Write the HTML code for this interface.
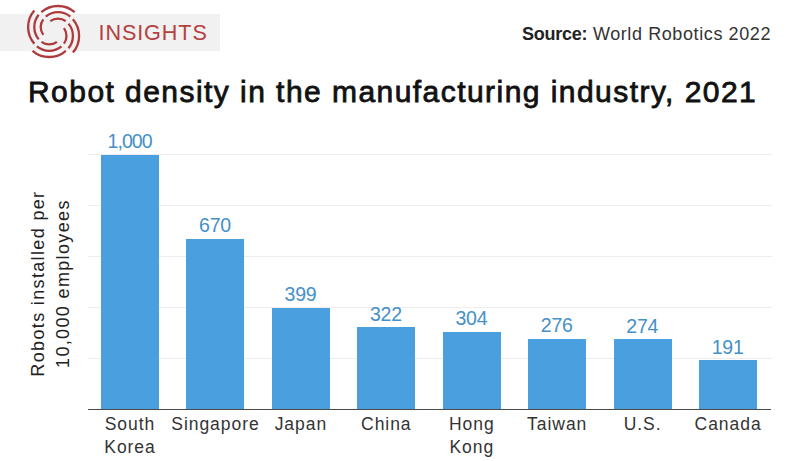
<!DOCTYPE html>
<html><head><meta charset="utf-8"><style>
html,body{margin:0;padding:0;background:#fff;}
body{width:800px;height:461px;position:relative;overflow:hidden;font-family:"Liberation Sans", sans-serif;}
</style></head><body>
<div style="position:absolute;left:0;top:13.5px;width:220px;height:37.5px;background:#f1f1f1"></div>
<svg style="position:absolute;left:0;top:0" width="110" height="64" viewBox="0 0 110 64"><path d="M41.32 12.22A25.5 25.5 0 0 1 74.68 12.22M45.71 16.61A19.3 19.3 0 0 1 70.29 16.61M50.27 21.17A12.9 12.9 0 0 1 65.73 21.17M72.88 19.22A25.5 25.5 0 0 1 72.88 52.58M68.49 23.61A19.3 19.3 0 0 1 68.49 48.19M63.93 28.17A12.9 12.9 0 0 1 63.93 43.63M65.88 50.78A25.5 25.5 0 0 1 32.52 50.78M61.49 46.39A19.3 19.3 0 0 1 36.91 46.39M56.93 41.83A12.9 12.9 0 0 1 41.47 41.83M34.32 43.78A25.5 25.5 0 0 1 34.32 10.42M38.71 39.39A19.3 19.3 0 0 1 38.71 14.81M43.27 34.83A12.9 12.9 0 0 1 43.27 19.37" fill="none" stroke="#ae3a3d" stroke-width="2.3"/></svg>
<div style="position:absolute;left:98.50px;top:22.32px;font-size:21.6px;line-height:21.6px;font-weight:normal;color:#b5403f;letter-spacing:0.9px;white-space:pre;">INSIGHTS</div>
<div style="position:absolute;left:522.00px;top:24.76px;font-size:18px;line-height:18px;font-weight:normal;color:#333;letter-spacing:0.6px;white-space:pre;"><b style="letter-spacing:-0.25px;color:#222">Source:</b> World Robotics 2022</div>
<div style="position:absolute;left:28.00px;top:77.11px;font-size:30px;line-height:30px;font-weight:normal;color:#111;letter-spacing:1.45px;white-space:pre;-webkit-text-stroke:0.8px #111;">Robot density in the manufacturing industry, 2021</div>
<div style="position:absolute;left:88px;top:357.64px;width:684px;height:1px;background:#ededed"></div>
<div style="position:absolute;left:88px;top:306.78px;width:684px;height:1px;background:#ededed"></div>
<div style="position:absolute;left:88px;top:255.92px;width:684px;height:1px;background:#ededed"></div>
<div style="position:absolute;left:88px;top:205.06px;width:684px;height:1px;background:#ededed"></div>
<div style="position:absolute;left:88px;top:154.20px;width:684px;height:1px;background:#ededed"></div>
<div style="position:absolute;left:101.00px;top:154.70px;width:58px;height:254.30px;background:#4a9fdf"></div>
<div style="position:absolute;left:-70.40px;width:400px;text-align:center;top:132.09px;font-size:19.5px;line-height:19.5px;font-weight:normal;color:#4490c8;letter-spacing:-0.9px;white-space:pre;">1,000</div>
<div style="position:absolute;left:30.00px;width:200px;text-align:center;top:413.39px;font-size:17.5px;line-height:22.3px;color:#333;letter-spacing:0.95px">South<br>Korea</div>
<div style="position:absolute;left:186.44px;top:238.62px;width:58px;height:170.38px;background:#4a9fdf"></div>
<div style="position:absolute;left:15.04px;width:400px;text-align:center;top:216.01px;font-size:19.5px;line-height:19.5px;font-weight:normal;color:#4490c8;letter-spacing:-0.2px;white-space:pre;">670</div>
<div style="position:absolute;left:115.44px;width:200px;text-align:center;top:413.39px;font-size:17.5px;line-height:22.3px;color:#333;letter-spacing:0.95px">Singapore</div>
<div style="position:absolute;left:271.88px;top:307.53px;width:58px;height:101.47px;background:#4a9fdf"></div>
<div style="position:absolute;left:100.48px;width:400px;text-align:center;top:284.93px;font-size:19.5px;line-height:19.5px;font-weight:normal;color:#4490c8;letter-spacing:-0.2px;white-space:pre;">399</div>
<div style="position:absolute;left:200.88px;width:200px;text-align:center;top:413.39px;font-size:17.5px;line-height:22.3px;color:#333;letter-spacing:0.95px">Japan</div>
<div style="position:absolute;left:357.32px;top:327.12px;width:58px;height:81.88px;background:#4a9fdf"></div>
<div style="position:absolute;left:185.92px;width:400px;text-align:center;top:304.51px;font-size:19.5px;line-height:19.5px;font-weight:normal;color:#4490c8;letter-spacing:-0.2px;white-space:pre;">322</div>
<div style="position:absolute;left:286.32px;width:200px;text-align:center;top:413.39px;font-size:17.5px;line-height:22.3px;color:#333;letter-spacing:0.95px">China</div>
<div style="position:absolute;left:442.76px;top:331.69px;width:58px;height:77.31px;background:#4a9fdf"></div>
<div style="position:absolute;left:271.36px;width:400px;text-align:center;top:309.09px;font-size:19.5px;line-height:19.5px;font-weight:normal;color:#4490c8;letter-spacing:-0.2px;white-space:pre;">304</div>
<div style="position:absolute;left:371.76px;width:200px;text-align:center;top:413.39px;font-size:17.5px;line-height:22.3px;color:#333;letter-spacing:0.95px">Hong<br>Kong</div>
<div style="position:absolute;left:528.20px;top:338.81px;width:58px;height:70.19px;background:#4a9fdf"></div>
<div style="position:absolute;left:356.80px;width:400px;text-align:center;top:316.21px;font-size:19.5px;line-height:19.5px;font-weight:normal;color:#4490c8;letter-spacing:-0.2px;white-space:pre;">276</div>
<div style="position:absolute;left:457.20px;width:200px;text-align:center;top:413.39px;font-size:17.5px;line-height:22.3px;color:#333;letter-spacing:0.95px">Taiwan</div>
<div style="position:absolute;left:613.64px;top:339.32px;width:58px;height:69.68px;background:#4a9fdf"></div>
<div style="position:absolute;left:442.24px;width:400px;text-align:center;top:316.72px;font-size:19.5px;line-height:19.5px;font-weight:normal;color:#4490c8;letter-spacing:-0.2px;white-space:pre;">274</div>
<div style="position:absolute;left:542.64px;width:200px;text-align:center;top:413.39px;font-size:17.5px;line-height:22.3px;color:#333;letter-spacing:0.95px">U.S.</div>
<div style="position:absolute;left:699.08px;top:360.43px;width:58px;height:48.57px;background:#4a9fdf"></div>
<div style="position:absolute;left:527.68px;width:400px;text-align:center;top:337.82px;font-size:19.5px;line-height:19.5px;font-weight:normal;color:#4490c8;letter-spacing:-0.2px;white-space:pre;">191</div>
<div style="position:absolute;left:628.08px;width:200px;text-align:center;top:413.39px;font-size:17.5px;line-height:22.3px;color:#333;letter-spacing:0.95px">Canada</div>
<div style="position:absolute;left:88px;top:408.50px;width:683px;height:1.7px;background:#4a4a4a"></div>
<div style="position:absolute;left:50.8px;top:283.6px;width:0;height:0"><div style="position:absolute;left:-150px;top:-24.6px;width:300px;text-align:center;transform:rotate(-90deg);transform-origin:150px 24.6px;font-size:18px;line-height:24.6px;color:#222;letter-spacing:1.35px">Robots installed per<br>10,000 employees</div></div>
</body></html>
